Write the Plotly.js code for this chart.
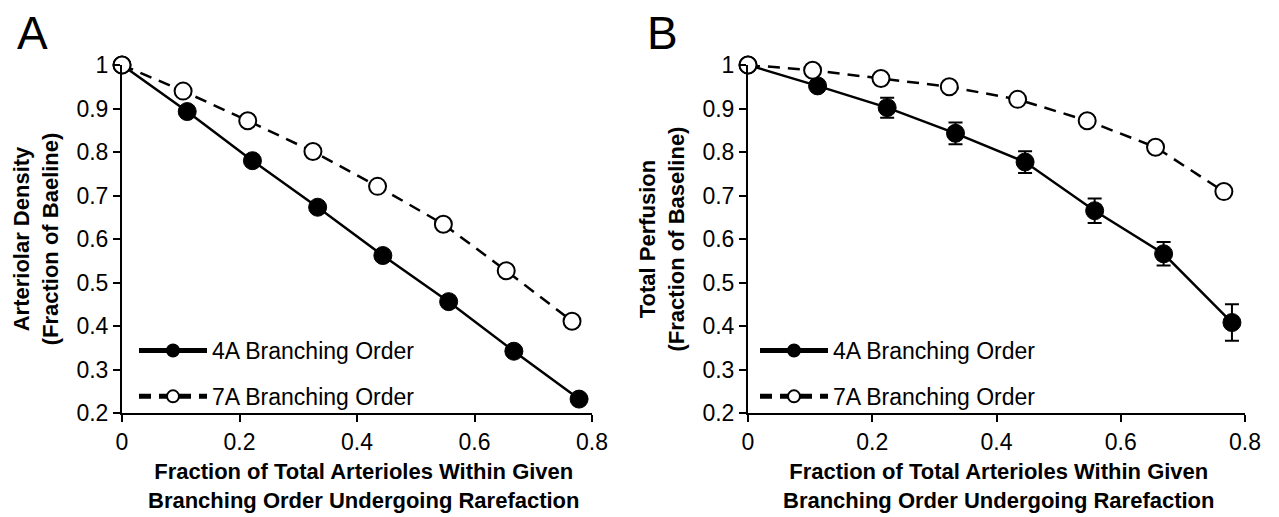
<!DOCTYPE html>
<html>
<head>
<meta charset="utf-8">
<script src="https://cdn.plot.ly/plotly-3.0.1.min.js"></script>
<style>html,body{margin:0;padding:0;background:#fff;}#chart{width:1279px;height:517px;}</style>
</head>
<body>
<div id="chart"></div>
<script>
// Panel A: Arteriolar density
const xA4 = [0, 0.111, 0.222, 0.333, 0.444, 0.556, 0.667, 0.778];
const yA4 = [1, 0.893, 0.780, 0.673, 0.562, 0.456, 0.342, 0.232];
const xA7 = [0, 0.104, 0.214, 0.325, 0.435, 0.547, 0.654, 0.766];
const yA7 = [1, 0.940, 0.872, 0.801, 0.721, 0.634, 0.527, 0.411];
// Panel B: Total perfusion
const xB4 = [0, 0.112, 0.224, 0.334, 0.446, 0.558, 0.669, 0.779];
const yB4 = [1, 0.952, 0.902, 0.843, 0.777, 0.665, 0.566, 0.408];
const errB4 = [0, 0.010, 0.023, 0.025, 0.025, 0.028, 0.027, 0.042];
const xB7 = [0, 0.104, 0.214, 0.324, 0.434, 0.546, 0.656, 0.766];
const yB7 = [1, 0.988, 0.969, 0.950, 0.921, 0.872, 0.811, 0.709];
const errB7 = [0, 0.004, 0.004, 0.004, 0.005, 0.005, 0.007, 0.012];

const name4 = "4A Branching Order";
const name7 = "7A Branching Order";
const xTicks = [0, 0.2, 0.4, 0.6, 0.8];
const yTicks = [0.2, 0.3, 0.4, 0.5, 0.6, 0.7, 0.8, 0.9, 1];
const xTitle = "Fraction of Total Arterioles Within Given<br>Branching Order Undergoing Rarefaction";
const yTitleA = "Arteriolar Density<br>(Fraction of Baeline)";
const yTitleB = "Total Perfusion<br>(Fraction of Baseline)";

const FONT = "Liberation Sans, Arial, sans-serif";

function filled(x, y, err, xa, ya, leg, grp) {
  const t = {
    x: x, y: y, xaxis: xa, yaxis: ya, name: name4, legend: leg, legendgroup: grp,
    type: 'scatter', mode: 'lines+markers', cliponaxis: false,
    line: {color: '#000', width: 2.5},
    marker: {symbol: 'circle', size: 18, color: '#000', line: {color: '#000', width: 1}}
  };
  if (err) t.error_y = {type: 'data', array: err, visible: true, color: '#000', thickness: 2, width: 7};
  return t;
}
function open(x, y, err, xa, ya, leg, grp) {
  const t = {
    x: x, y: y, xaxis: xa, yaxis: ya, name: name7, legend: leg, legendgroup: grp,
    type: 'scatter', mode: 'lines+markers', cliponaxis: false,
    line: {color: '#000', width: 2.5, dash: '12px,8px'},
    marker: {symbol: 'circle', size: 17, color: '#fff', line: {color: '#000', width: 2}}
  };
  if (err) t.error_y = {type: 'data', array: err, visible: true, color: '#000', thickness: 2, width: 7};
  return t;
}

const data = [
  filled(xA4, yA4, null, 'x', 'y', 'legend', 'a4'),
  open(xA7, yA7, null, 'x', 'y', 'legend', 'a7'),
  filled(xB4, yB4, errB4, 'x2', 'y2', 'legend2', 'b4'),
  open(xB7, yB7, errB7, 'x2', 'y2', 'legend2', 'b7')
];

function xaxis(domain, anchor) {
  return {
    domain: domain, anchor: anchor, range: [0, 0.8], tickvals: xTicks,
    showline: true, linecolor: '#000', linewidth: 2,
    ticks: 'outside', ticklen: 7, tickwidth: 2, tickcolor: '#000',
    showgrid: false, zeroline: false,
    tickfont: {family: FONT, size: 23, color: '#000'},
    automargin: false
  };
}
function yaxis(domain, anchor, title) {
  return {
    domain: domain, anchor: anchor, range: [0.2, 1], tickvals: yTicks,
    showline: true, linecolor: '#000', linewidth: 2,
    ticks: 'outside', ticklen: 7, tickwidth: 2, tickcolor: '#000',
    showgrid: false, zeroline: false,
    tickfont: {family: FONT, size: 23, color: '#000'},
    title: {text: title, font: {family: FONT, size: 22, color: '#000', weight: 'bold'}, standoff: 12},
    automargin: false
  };
}

const W = 1279, H = 517;
const yDom = [(H - 413) / H, (H - 65) / H];

function legend(x) {
  return {
    x: x, y: (H - 329) / H, xanchor: 'left', yanchor: 'top',
    bgcolor: 'rgba(0,0,0,0)', borderwidth: 0,
    font: {family: FONT, size: 23, color: '#000'},
    itemwidth: 68, itemsizing: 'constant', tracegroupgap: 13, traceorder: 'grouped'
  };
}

function title(text, xc, yc) {
  return {text: text, xref: 'paper', yref: 'paper', x: xc / W, y: (H - yc) / H,
    xanchor: 'center', yanchor: 'middle', showarrow: false,
    font: {family: FONT, size: 22, color: '#000', weight: 'bold'}};
}

const layout = {
  width: W, height: H,
  margin: {l: 0, r: 0, t: 0, b: 0},
  paper_bgcolor: '#fff', plot_bgcolor: '#fff',
  font: {family: FONT, color: '#000'},
  showlegend: true,
  xaxis: xaxis([122 / W, 592 / W], 'y'),
  yaxis: yaxis(yDom, 'x', yTitleA),
  xaxis2: xaxis([748 / W, 1245 / W], 'y2'),
  yaxis2: yaxis(yDom, 'x2', yTitleB),
  legend: legend(134 / W),
  legend2: legend(755 / W),
  annotations: [
    title(xTitle, 364, 486),
    title(xTitle, 999, 486),
    {text: 'A', xref: 'paper', yref: 'paper', x: 15 / W, y: (H - 5) / H, xanchor: 'left', yanchor: 'top',
     showarrow: false, font: {family: FONT, size: 46, color: '#000'}},
    {text: 'B', xref: 'paper', yref: 'paper', x: 645 / W, y: (H - 5) / H, xanchor: 'left', yanchor: 'top',
     showarrow: false, font: {family: FONT, size: 46, color: '#000'}}
  ]
};

Plotly.newPlot('chart', data, layout, {staticPlot: true, displayModeBar: false});
</script>
</body>
</html>
